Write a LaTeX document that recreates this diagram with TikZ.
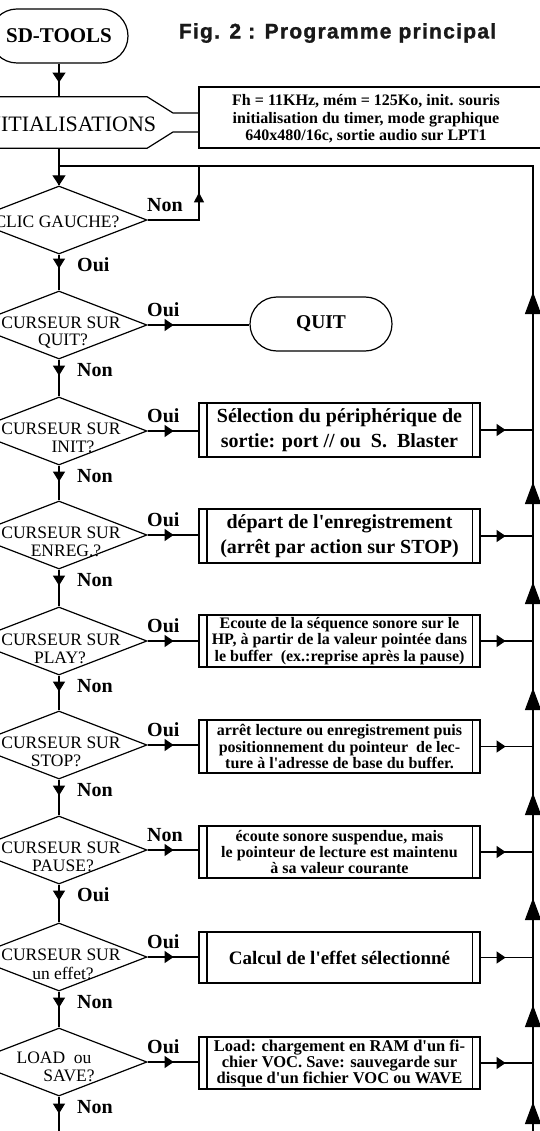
\documentclass[tikz,border=0pt]{standalone}
\usepackage{fontspec}
\setmainfont{Liberation Serif}
\newfontfamily\titlefont[LetterSpace=6,FakeBold=1.3]{Liberation Sans Bold}
\usetikzlibrary{shapes.geometric,shapes.misc,decorations.markings,arrows.meta}
\tikzset{
  ln/.style={line width=1.2pt},
  dia/.style={diamond, draw, ln, minimum width=176pt, minimum height=68pt, inner sep=0pt},
  term/.style={rounded rectangle, draw, ln, minimum height=54pt, inner sep=0pt},
  proc/.style={rectangle, draw, ln, minimum width=281pt, inner sep=0pt, align=center},
  dtxt/.style={inner sep=0pt, font=\fontsize{17.5}{17.5}\selectfont},
  lab/.style={inner sep=0pt, anchor=west, font=\bfseries\fontsize{20}{20}\selectfont},
  arrat/.style 2 args={postaction={decorate, decoration={markings, mark=at position #1 with {\arrow{#2}}}}},
}
\begin{document}
\begin{tikzpicture}[x=1pt,y=-1pt]
\useasboundingbox (0,0) rectangle (540,1131);
\fill[white] (0,0) rectangle (540,1131);

% title and start
\node[term, minimum width=138pt, font=\bfseries\fontsize{21}{21}\selectfont] (sd) at (59,36) {SD-TOOLS};
\node[inner sep=0pt, text=black!90, font=\titlefont\fontsize{21}{21}\selectfont] (title) at (337.5,33) {Fig. 2 : Programme principal};

% initialisation block with callout
\node[inner sep=0pt, minimum width=192pt, minimum height=51pt] (ini) at (51,122.5) {};
\node[inner sep=0pt, font=\fontsize{22}{22}\selectfont] (initxt) at (67,124) {INITIALISATIONS};
\draw[ln] (ini.north west) -- (ini.north east) -- (173,113) -- (199,113);
\draw[ln] (ini.south west) -- (ini.south east) -- (173,132) -- (199,132);
\node[draw, ln, minimum width=361pt, minimum height=61pt, inner sep=0pt] (note) at (379.5,117.5) {};
\node[inner sep=0pt, align=center, font=\bfseries\fontsize{16}{17.5}\selectfont] (notetxt) at (366,119) {Fh = 11KHz, mém = 125Ko, init. souris\\initialisation du timer, mode graphique\\640x480/16c, sortie audio sur LPT1};

% decisions
\node[dia] (d1) at (59,220) {};
\node[dia] (d2) at (59,325) {};
\node[dia] (d3) at (59,431) {};
\node[dia] (d4) at (59,535) {};
\node[dia] (d5) at (59,641) {};
\node[dia] (d6) at (59,745) {};
\node[dia] (d7) at (59,850) {};
\node[dia] (d8) at (59,957) {};
\node[dia] (d9) at (59,1062) {};

\node[dtxt] (t1) at (57,222) {CLIC GAUCHE?};
\node[dtxt] (t2a) at (61,323) {CURSEUR SUR};
\node[dtxt] (t2b) at (63,341) {QUIT?};
\node[dtxt] (t3a) at (61,429) {CURSEUR SUR};
\node[dtxt] (t3b) at (73,447) {INIT?};
\node[dtxt] (t4a) at (61,533) {CURSEUR SUR};
\node[dtxt] (t4b) at (66,551) {ENREG.?};
\node[dtxt] (t5a) at (61,640) {CURSEUR SUR};
\node[dtxt] (t5b) at (60,658) {PLAY?};
\node[dtxt] (t6a) at (61,743) {CURSEUR SUR};
\node[dtxt] (t6b) at (56,761) {STOP?};
\node[dtxt] (t7a) at (61,848) {CURSEUR SUR};
\node[dtxt] (t7b) at (63,866) {PAUSE?};
\node[dtxt] (t8a) at (61,955) {CURSEUR SUR};
\node[dtxt] (t8b) at (63,973) {un effet?};
\node[dtxt] (t9a) at (54,1058) {LOAD\ \ ou};
\node[dtxt] (t9b) at (69,1076) {SAVE?};

% QUIT terminal
\node[term, minimum width=142pt, font=\bfseries\fontsize{19.5}{19.5}\selectfont] (quit) at (321,324) {QUIT};

% process boxes
\node[proc, minimum height=54pt, font=\bfseries\fontsize{20}{25.5}\selectfont] (b1) at (339.5,430) {Sélection du périphérique de\\sortie: port // ou\ \ S.\ \ Blaster};
\node[proc, minimum height=54pt, font=\bfseries\fontsize{20}{25}\selectfont] (b2) at (339.5,536) {départ de l\textquotesingle enregistrement\\(arrêt par action sur STOP)};
\node[proc, minimum height=52pt, font=\bfseries\fontsize{16}{16.5}\selectfont] (b3) at (339.5,641) {Ecoute de la séquence sonore sur le\\HP, à partir de la valeur pointée dans\\le buffer\ \ (ex.:reprise après la pause)};
\node[proc, minimum height=53pt, font=\bfseries\fontsize{16}{16.5}\selectfont] (b4) at (339.5,746.5) {arrêt lecture ou enregistrement puis\\positionnement du pointeur\ \ de lec-\\ture à l\textquotesingle adresse de base du buffer.};
\node[proc, minimum height=52pt, font=\bfseries\fontsize{16}{16}\selectfont] (b5) at (339.5,852) {écoute sonore suspendue, mais\\le pointeur de lecture est maintenu\\à sa valeur courante};
\node[proc, minimum height=51pt, font=\bfseries\fontsize{19}{19}\selectfont] (b6) at (339.5,957.5) {Calcul de l\textquotesingle effet sélectionné};
\node[proc, minimum height=52pt, font=\bfseries\fontsize{16.5}{16}\selectfont] (b7) at (339.5,1063) {Load: chargement en RAM d\textquotesingle un fi-\\chier VOC. Save: sauvegarde sur\\disque d\textquotesingle un fichier VOC ou WAVE};
\foreach \b in {b1,b2,b3,b4,b5,b6,b7}{
  \draw[ln] ([xshift=8.5pt]\b.north west) -- ([xshift=8.5pt]\b.south west);
  \draw[ln] ([xshift=-8.5pt]\b.north east) -- ([xshift=-8.5pt]\b.south east);
}

% coordinates for loops
\coordinate (lt) at (59,166);
\coordinate (rt) at (533,166);
\coordinate (rb) at (533,1131);
\coordinate (nc) at (199,166);
\coordinate (mb) at (59,1131);

% main column
\draw[ln, arrat={19pt}{Triangle[length=10pt,width=13pt]}] (sd.south) -- (ini.north -| sd.south);
\draw[ln, arrat={1}{Triangle[length=10pt,width=13pt]}] (ini.south -| sd.south) -- (d1.north);
\draw[ln, arrat={14pt}{Triangle[length=10pt,width=12pt]}] (d1.south) -- (d2.north);
\draw[ln, arrat={16pt}{Triangle[length=10pt,width=12pt]}] (d2.south) -- (d3.north);
\draw[ln, arrat={16pt}{Triangle[length=10pt,width=12pt]}] (d3.south) -- (d4.north);
\draw[ln, arrat={16pt}{Triangle[length=10pt,width=12pt]}] (d4.south) -- (d5.north);
\draw[ln, arrat={16pt}{Triangle[length=10pt,width=12pt]}] (d5.south) -- (d6.north);
\draw[ln, arrat={16pt}{Triangle[length=10pt,width=12pt]}] (d6.south) -- (d7.north);
\draw[ln, arrat={16pt}{Triangle[length=10pt,width=12pt]}] (d7.south) -- (d8.north);
\draw[ln, arrat={16pt}{Triangle[length=10pt,width=12pt]}] (d8.south) -- (d9.north);
\draw[ln, arrat={17pt}{Triangle[length=10pt,width=12pt]}] (d9.south) -- (mb);

% Non loop of CLIC GAUCHE
\draw[ln, arrat={79pt}{Triangle[length=10pt,width=10pt]}] (d1.east) -| (nc);

% side branches
\draw[ln, arrat={26pt}{Triangle[length=9pt,width=12pt]}] (d2.east) -- (d2.east -| quit.west);
\draw[ln, arrat={26pt}{Triangle[length=9pt,width=12pt]}] (d3.east) -- (d3.east -| b1.west);
\draw[ln, arrat={26pt}{Triangle[length=9pt,width=12pt]}] (d4.east) -- (d4.east -| b2.west);
\draw[ln, arrat={26pt}{Triangle[length=9pt,width=12pt]}] (d5.east) -- (d5.east -| b3.west);
\draw[ln, arrat={26pt}{Triangle[length=9pt,width=12pt]}] (d6.east) -- (d6.east -| b4.west);
\draw[ln, arrat={26pt}{Triangle[length=9pt,width=12pt]}] (d7.east) -- (d7.east -| b5.west);
\draw[ln, arrat={26pt}{Triangle[length=9pt,width=12pt]}] (d8.east) -- (d8.east -| b6.west);
\draw[ln, arrat={26pt}{Triangle[length=9pt,width=12pt]}] (d9.east) -- (d9.east -| b7.west);

% outputs to return line
\foreach \b in {b1,b2,b3,b4,b5,b6,b7}{
  \draw[ln, arrat={25pt}{Triangle[length=9pt,width=12pt]}] (\b.east) -- (\b.east -| rt);
}

% return line
\draw[ln,
  arrat={29pt}{Triangle[length=22pt,width=16pt]},
  arrat={126pt}{Triangle[length=22pt,width=16pt]},
  arrat={233pt}{Triangle[length=22pt,width=16pt]},
  arrat={338pt}{Triangle[length=22pt,width=16pt]},
  arrat={443pt}{Triangle[length=22pt,width=16pt]},
  arrat={549pt}{Triangle[length=22pt,width=16pt]},
  arrat={649pt}{Triangle[length=22pt,width=16pt]},
  arrat={839pt}{Triangle[length=22pt,width=16pt]}]
  (rb) -- (rt) -- (lt);

% labels
\node[lab] (l1s) at (77,265) {Oui};
\node[lab] (l2s) at (77,370) {Non};
\node[lab] (l3s) at (77,476) {Non};
\node[lab] (l4s) at (77,580) {Non};
\node[lab] (l5s) at (77,686) {Non};
\node[lab] (l6s) at (77,790) {Non};
\node[lab] (l7s) at (77,895) {Oui};
\node[lab] (l8s) at (77,1002) {Non};
\node[lab] (l9s) at (77,1107) {Non};
\node[lab] (l1e) at (147,205) {Non};
\node[lab] (l2e) at (147,310) {Oui};
\node[lab] (l3e) at (147,416) {Oui};
\node[lab] (l4e) at (147,520) {Oui};
\node[lab] (l5e) at (147,626) {Oui};
\node[lab] (l6e) at (147,730) {Oui};
\node[lab] (l7e) at (147,835) {Non};
\node[lab] (l8e) at (147,942) {Oui};
\node[lab] (l9e) at (147,1047) {Oui};
\end{tikzpicture}
\end{document}
